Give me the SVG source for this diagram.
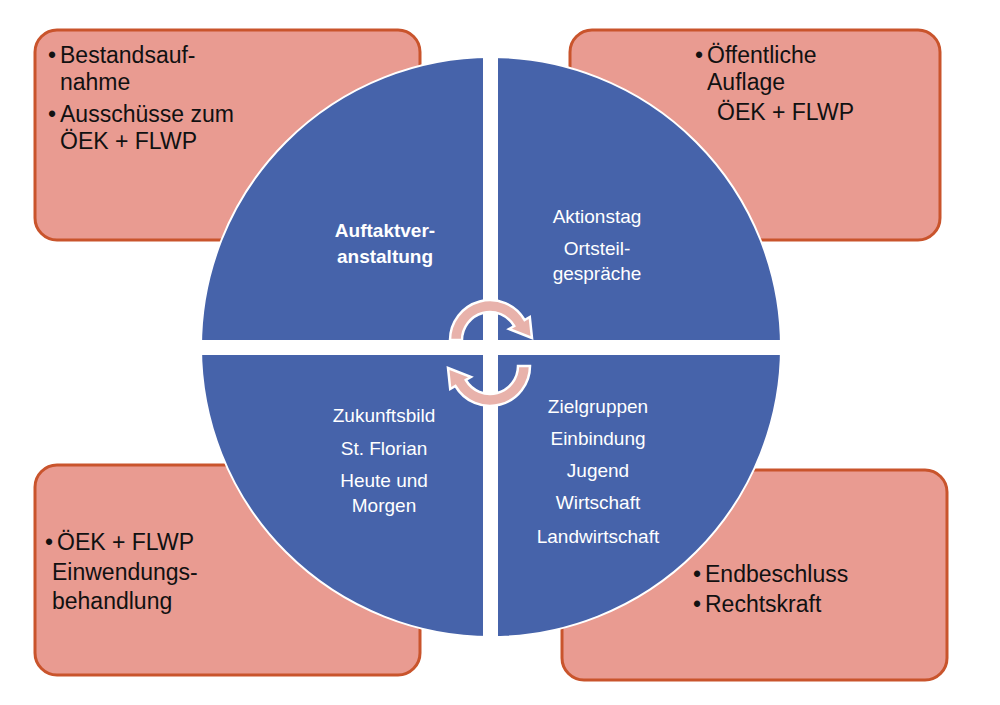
<svg xmlns="http://www.w3.org/2000/svg" width="1000" height="705" viewBox="0 0 1000 705">
<style>
.box{fill:#e99b91;stroke:#c9542c;stroke-width:3}
.bt{font-family:"Liberation Sans",Arial,sans-serif;font-size:23px;fill:#111}
.qt{font-family:"Liberation Sans",Arial,sans-serif;font-size:19px;fill:#fff;text-anchor:middle}
.arr{fill:#e8b2ab;stroke:#fff;stroke-width:2.5}
</style>
<rect width="1000" height="705" fill="#fff"/>
<g id="box-tl"><rect class="box" x="35" y="30" width="385" height="210" rx="22"/>
<text class="bt" x="48" y="63">•</text><text class="bt" x="60" y="63">Bestandsauf-</text><text class="bt" x="60" y="90">nahme</text>
<text class="bt" x="48" y="122">•</text><text class="bt" x="60" y="122">Ausschüsse zum</text><text class="bt" x="60" y="149">ÖEK + FLWP</text></g>
<g id="box-tr"><rect class="box" x="570" y="30" width="370" height="210" rx="22"/>
<text class="bt" x="695" y="63">•</text><text class="bt" x="707" y="63">Öffentliche</text><text class="bt" x="707" y="90">Auflage</text><text class="bt" x="717" y="120">ÖEK + FLWP</text></g>
<g id="box-bl"><rect class="box" x="35" y="465" width="385" height="210" rx="22"/>
<text class="bt" x="45" y="550">•</text><text class="bt" x="57" y="550">ÖEK + FLWP</text><text class="bt" x="52" y="580">Einwendungs-</text><text class="bt" x="52" y="609">behandlung</text></g>
<g id="box-br"><rect class="box" x="562" y="470" width="385" height="210" rx="22"/>
<text class="bt" x="693" y="582">•</text><text class="bt" x="705" y="582">Endbeschluss</text>
<text class="bt" x="693" y="612">•</text><text class="bt" x="705" y="612">Rechtskraft</text></g>
<g id="circle">
<circle cx="491" cy="347" r="290" fill="#4663aa" stroke="#fff" stroke-width="2"/>
<rect x="483" y="40" width="15" height="620" fill="#fff"/>
<rect x="190" y="340" width="610" height="15" fill="#fff"/>
</g>
<g id="q-tl"><text class="qt" x="385" y="237" font-weight="bold">Auftaktver-</text><text class="qt" x="385" y="263" font-weight="bold">anstaltung</text></g>
<g id="q-tr"><text class="qt" x="597" y="223">Aktionstag</text><text class="qt" x="597" y="255">Ortsteil-</text><text class="qt" x="597" y="280">gespräche</text></g>
<g id="q-bl"><text class="qt" x="384" y="422">Zukunftsbild</text><text class="qt" x="384" y="455">St. Florian</text><text class="qt" x="384" y="487">Heute und</text><text class="qt" x="384" y="512">Morgen</text></g>
<g id="q-br"><text class="qt" x="598" y="413">Zielgruppen</text><text class="qt" x="598" y="445">Einbindung</text><text class="qt" x="598" y="477">Jugend</text><text class="qt" x="598" y="509">Wirtschaft</text><text class="qt" x="598" y="543">Landwirtschaft</text></g>
<g id="connectors">
<path class="arr" d="M450,340 A40,40 0 0 1 524.6,320 L529.8,317 L532,338 L509,329 L514.2,326 A28,28 0 0 0 462,340 Z"/>
<path class="arr" transform="rotate(180,490,353)" d="M450,340 A40,40 0 0 1 524.6,320 L529.8,317 L532,338 L509,329 L514.2,326 A28,28 0 0 0 462,340 Z"/>
</g>
</svg>
